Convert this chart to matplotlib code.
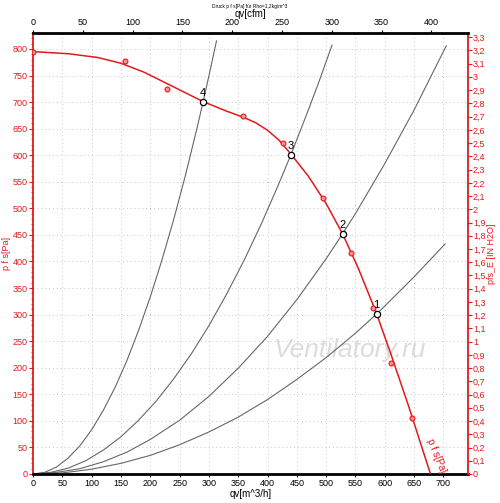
import matplotlib.pyplot as plt
from matplotlib.ticker import MultipleLocator, FuncFormatter

plt.rcParams['font.family'] = ['Liberation Sans', 'DejaVu Sans']

RED = '#e3191c'

# fan curve p_fs [Pa] over qv [m^3/h]
fan_q = [0, 60, 110, 150, 190, 230, 270, 290, 330, 360, 380, 400, 420, 440, 470, 500, 528, 555, 586, 611, 640, 678]
fan_p = [795, 791, 784, 773, 756, 734, 712, 701, 683, 671, 661, 647, 628, 602, 560, 509, 452, 387, 302, 224, 130, 0]

# measured points on the fan curve
meas_q = [0, 157, 228, 359, 427, 495, 543, 580, 611, 647]
meas_p = [795, 778, 725, 674, 623, 520, 416, 313, 209, 105]

# system curves 4..1
sys4_q = [0, 20, 40, 60, 80, 100, 120, 140, 160, 180, 200, 220, 240, 260, 280, 290, 300, 313]
sys4_p = [0, 3, 13, 30, 53, 83, 120, 163, 213, 270, 333, 403, 479, 562, 652, 700, 749, 815]
sys3_q = [0, 30, 60, 90, 120, 150, 180, 210, 240, 270, 300, 330, 360, 390, 420, 440, 470, 490, 510]
sys3_p = [0, 3, 11, 25, 45, 70, 101, 137, 179, 226, 279, 338, 402, 472, 548, 601, 686, 745, 807]
sys2_q = [0, 40, 80, 120, 160, 200, 250, 300, 350, 400, 450, 500, 528, 550, 600, 650, 705]
sys2_p = [0, 3, 10, 23, 41, 65, 101, 146, 199, 259, 328, 405, 452, 490, 584, 685, 806]
sys1_q = [0, 50, 100, 150, 200, 250, 300, 350, 400, 450, 500, 550, 586, 600, 650, 703]
sys1_p = [0, 2, 9, 20, 35, 55, 79, 107, 140, 178, 219, 265, 301, 316, 371, 433]

# operating points
op_q = [586, 528, 440, 290]
op_p = [301, 452, 601, 700]
op_lab = ['1', '2', '3', '4']

fig = plt.figure(figsize=(5, 5.03), dpi=100)
ax = fig.add_axes([0.066, 0.0577, 0.870, 0.8767])

ax.set_xlim(0, 742)
ax.set_ylim(0, 830)

for q, p in [(sys4_q, sys4_p), (sys3_q, sys3_p), (sys2_q, sys2_p), (sys1_q, sys1_p)]:
    ax.plot(q, p, color='#666666', lw=0.8, zorder=2)

ax.plot(fan_q, fan_p, color=RED, lw=1.1, zorder=3)
ax.plot(meas_q, meas_p, 'o', ms=3.5, mfc='#ff9090', mec=RED, mew=0.8, zorder=4)

ax.plot(op_q, op_p, 'o', ms=4.5, mfc='white', mec='black', mew=0.9, zorder=5)
for q, p, t in zip(op_q, op_p, op_lab):
    ax.text(q, p + 7, t, ha='center', va='bottom', fontsize=8, zorder=6)

ax.text(688, 34, 'p f s[Pa]', color=RED, fontsize=7, rotation=-68,
        ha='center', va='center', rotation_mode='anchor')

ax.text(0.70, 0.304, 'Ventilatory.ru', transform=fig.transFigure, fontsize=19,
        style='italic', color='#dcdcdc', ha='center', va='center', zorder=1)

ax.set_xticks([x for x in range(0, 701, 50)])
ax.yaxis.set_major_locator(MultipleLocator(50))
ax.yaxis.set_minor_locator(MultipleLocator(10))
ax.grid(True, color='#c8c8c8', lw=0.7, linestyle=(0, (1, 3)))
ax.tick_params(axis='x', labelsize=6.5, length=2, pad=1.5, colors='black')
ax.tick_params(axis='y', which='both', labelsize=6.5, colors=RED, pad=1)
ax.tick_params(axis='y', which='major', length=3)
ax.tick_params(axis='y', which='minor', length=1.5)
ax.spines['left'].set_color(RED)
ax.spines['left'].set_linewidth(1.3)
ax.spines['bottom'].set_linewidth(2)
ax.spines['top'].set_visible(False)
ax.spines['right'].set_visible(False)
ax.set_xlabel('qv[m^3/h]', fontsize=7, labelpad=1)
ax.set_ylabel('p f s[Pa]', fontsize=6.5, color=RED, labelpad=1)

# right axis: inch water column
ax2 = ax.twinx()
ax2.set_ylim(0, 830 / 249.089)
ax2.yaxis.set_major_locator(MultipleLocator(0.1))
ax2.yaxis.set_major_formatter(FuncFormatter(lambda v, pos: ('%.1f' % v).rstrip('0').rstrip('.').replace('.', ',')))
ax2.tick_params(axis='y', labelsize=6.5, colors=RED, length=3, pad=0.5)
for s in ['left', 'top', 'bottom']:
    ax2.spines[s].set_visible(False)
ax2.spines['right'].set_color(RED)
ax2.spines['right'].set_linewidth(1.3)
ax2.set_ylabel('pfs_E [IN H2O]', fontsize=6.5, color=RED, labelpad=1)

# top axis: cfm
ax3 = ax.twiny()
ax3.set_xlim(0, 742 * 0.58858)
ax3.xaxis.set_major_locator(MultipleLocator(50))
ax3.tick_params(axis='x', labelsize=6.5, length=2, pad=2.5)
for s in ['left', 'right', 'bottom']:
    ax3.spines[s].set_visible(False)
ax3.spines['top'].set_linewidth(2)
ax3.set_xlabel('qv[cfm]', fontsize=7, labelpad=0.5)

fig.text(0.5, 0.992, 'Druck p f s[Pa] für Rho=1,2kg/m^3', fontsize=3.5,
         ha='center', va='top')

fig.savefig('out.png', dpi=100)
